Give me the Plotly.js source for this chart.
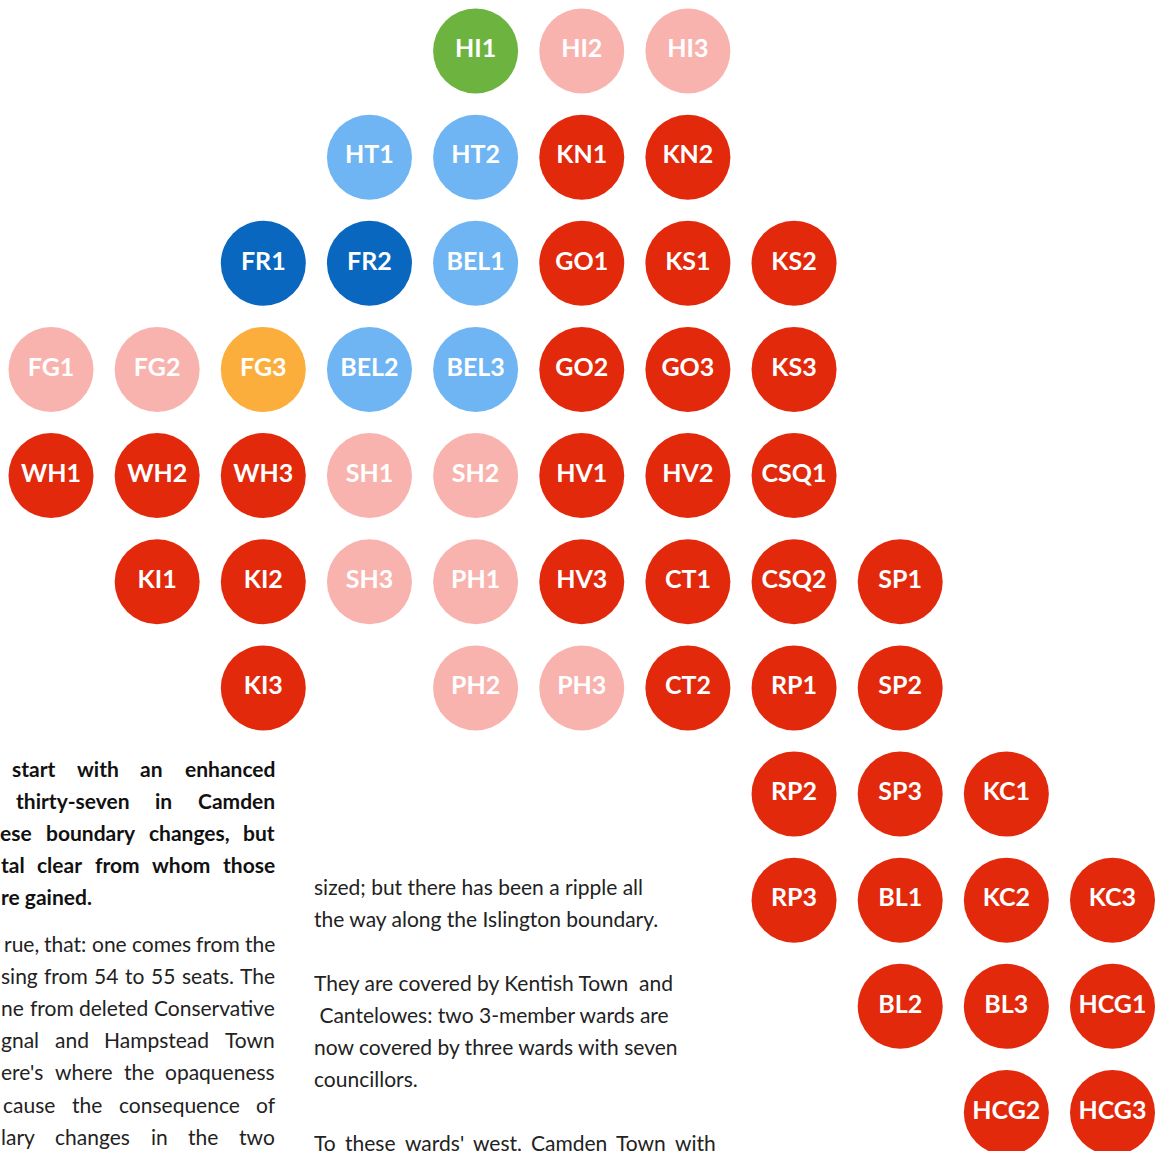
<!DOCTYPE html>
<html>
<head>
<meta charset="utf-8">
<script src="https://cdn.plot.ly/plotly-3.0.1.min.js"></script>
<style>
html,body{margin:0;padding:0;background:#fff;}
#chart{width:1156px;height:1151px;}
</style>
</head>
<body>
<div id="chart"></div>
<script>
// ---- data ----
const wardLabels = ["HI1","HI2","HI3",
  "HT1","HT2","KN1","KN2",
  "FR1","FR2","BEL1","GO1","KS1","KS2",
  "FG1","FG2","FG3","BEL2","BEL3","GO2","GO3","KS3",
  "WH1","WH2","WH3","SH1","SH2","HV1","HV2","CSQ1",
  "KI1","KI2","SH3","PH1","HV3","CT1","CSQ2","SP1",
  "KI3","PH2","PH3","CT2","RP1","SP2",
  "RP2","SP3","KC1",
  "RP3","BL1","KC2","KC3",
  "BL2","BL3","HCG1",
  "HCG2","HCG3"];
const wardCols = [4,5,6,
  3,4,5,6,
  2,3,4,5,6,7,
  0,1,2,3,4,5,6,7,
  0,1,2,3,4,5,6,7,
  1,2,3,4,5,6,7,8,
  2,4,5,6,7,8,
  7,8,9,
  7,8,9,10,
  8,9,10,
  9,10];
const wardRows = [0,0,0,
  1,1,1,1,
  2,2,2,2,2,2,
  3,3,3,3,3,3,3,3,
  4,4,4,4,4,4,4,4,
  5,5,5,5,5,5,5,5,
  6,6,6,6,6,6,
  7,7,7,
  8,8,8,8,
  9,9,9,
  10,10];
const wardParty = ["Green","Lab gain","Lab gain",
  "Con notional","Con notional","Lab","Lab",
  "Con","Con","Con notional","Lab","Lab","Lab",
  "Lab gain","Lab gain","LD","Con notional","Con notional","Lab","Lab","Lab",
  "Lab","Lab","Lab","Lab gain","Lab gain","Lab","Lab","Lab",
  "Lab","Lab","Lab gain","Lab gain","Lab","Lab","Lab","Lab",
  "Lab","Lab gain","Lab gain","Lab","Lab","Lab",
  "Lab","Lab","Lab",
  "Lab","Lab","Lab","Lab",
  "Lab","Lab","Lab",
  "Lab","Lab"];

const boldLines = ["start with an enhanced", "thirty-seven in Camden", "ese boundary changes, but", "tal clear from whom those", "re gained."];
const leftLines = ["rue, that: one comes from the", "sing from 54 to 55 seats. The", "ne from deleted Conservative", "gnal and Hampstead Town", "ere's where the opaqueness", "cause the consequence of", "lary changes in the two"];
const midLines = ["sized; but there has been a ripple all", "the way along the Islington boundary.", "They are covered by Kentish Town  and", " Cantelowes: two 3-member wards are", "now covered by three wards with seven", "councillors.", "To these wards' west, Camden Town with"];

// ---- styles / layout ----
const partyColors = {
  "Lab": "#e2290c",
  "Lab gain": "#f8b3ae",
  "Con": "#0a67bf",
  "Con notional": "#70b5f3",
  "LD": "#fbae3c",
  "Green": "#6cb33f"
};

const W = 1156, H = 1151;
const FS = 21;
const px = x => x / W;
const py = y => 1 - y / H;

const trace = {
  type: "scatter",
  mode: "markers+text",
  x: wardCols,
  y: wardRows,
  text: wardLabels,
  textposition: "middle center",
  textfont: {family: "Lato, 'Open Sans', sans-serif", size: 25, color: "#ffffff", weight: 700},
  marker: {size: 85, color: wardParty.map(p => partyColors[p]), line: {width: 0}},
  hoverinfo: "skip",
  cliponaxis: false,
  showlegend: false
};

const annotations = [];
const canvas = document.createElement("canvas");
const ctx = canvas.getContext("2d");

function plain(text, x, y, anchor, weight, color) {
  annotations.push({
    xref: "paper", yref: "paper", x: px(x), y: py(y),
    xanchor: anchor, yanchor: "middle", showarrow: false, text: text,
    borderpad: 0,
    font: {family: "Lato, sans-serif", size: FS, color: color, weight: weight}
  });
}
function justified(text, left, right, y, weight, color) {
  const words = text.trim().split(/\s+/);
  ctx.font = weight + " " + FS + "px Lato";
  const widths = words.map(w => ctx.measureText(w).width);
  const total = widths.reduce((a, b) => a + b, 0);
  const gap = words.length > 1 ? (right - left - total) / (words.length - 1) : 0;
  let x = left;
  words.forEach((w, i) => {
    plain(w, x, y, "left", weight, color);
    x += widths[i] + gap;
  });
}

const boldY = [768, 800, 832, 864, 896];
const boldLeft = [11, 15, -1, 0, 0];
boldLines.forEach((t, i) => {
  if (i < boldLines.length - 1) justified(t, boldLeft[i], 274, boldY[i], 700, "#111");
  else plain(t, boldLeft[i], boldY[i], "left", 700, "#111");
});
const leftY = [943, 975, 1007, 1039, 1071, 1104, 1136];
const leftLeft = [3, 0, 0, 0, 0, 2, 0];
leftLines.forEach((t, i) => justified(t, leftLeft[i], 274, leftY[i], 400, "#222"));

const midY = [886, 918, 982, 1014, 1046, 1078, 1142];
midLines.forEach((t, i) => {
  if (i === midLines.length - 1) justified(t, 313, 715, midY[i], 400, "#222");
  else plain(t, 313, midY[i], "left", 400, "#222");
});

// pixel mapping: col 0 -> 51px, row 0 -> 51px, spacing 106.15px
const step = 106.15;
const layout = {
  width: W, height: H,
  margin: {l: 0, r: 0, t: 0, b: 0, pad: 0},
  paper_bgcolor: "#ffffff",
  plot_bgcolor: "#ffffff",
  xaxis: {range: [-51 / step, (W - 51) / step], visible: false, fixedrange: true},
  yaxis: {range: [(H - 51) / step, -51 / step], visible: false, fixedrange: true},
  annotations: annotations,
  showlegend: false
};

Plotly.newPlot("chart", [trace], layout, {displayModeBar: false, staticPlot: true});
</script>
</body>
</html>
